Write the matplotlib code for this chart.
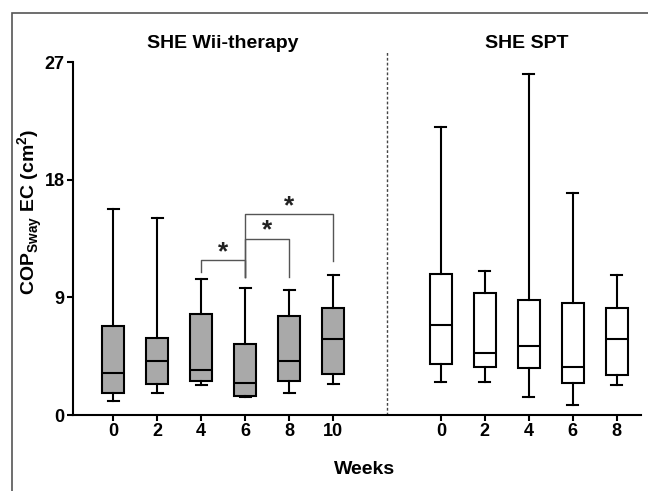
import numpy as np
import matplotlib
matplotlib.use('Agg')
import matplotlib.pyplot as plt
from matplotlib.patches import Rectangle

plt.rcParams['font.family'] = ['Liberation Sans', 'DejaVu Sans']
plt.rcParams['font.weight'] = 'bold'

# box statistics: whisker low, q1, median, q3, whisker high
wii_weeks = ['0', '2', '4', '6', '8', '10']
wii_low = [1.09, 1.67, 2.33, 1.39, 1.67, 2.36]
wii_q1 = [1.65, 2.38, 2.59, 1.47, 2.61, 3.12]
wii_med = [3.22, 4.16, 3.42, 2.41, 4.16, 5.78]
wii_q3 = [6.79, 5.91, 7.70, 5.45, 7.60, 8.19]
wii_high = [15.72, 15.03, 10.37, 9.71, 9.58, 10.70]

spt_weeks = ['0', '2', '4', '6', '8']
spt_low = [2.53, 2.51, 1.37, 0.79, 2.33]
spt_q1 = [3.93, 3.70, 3.57, 2.48, 3.07]
spt_med = [6.92, 4.77, 5.30, 3.67, 5.80]
spt_q3 = [10.77, 9.35, 8.80, 8.59, 8.16]
spt_high = [22.05, 11.03, 26.08, 16.96, 10.72]

# significance brackets (index pairs in the Wii group)
sig_pairs = [(2, 3), (3, 4), (3, 5)]
sig_top = [11.84, 13.48, 15.38]
sig_left_end = [10.95, 10.57, 10.57]
sig_right_end = [10.57, 10.57, 11.79]


def stats(low, q1, med, q3, high):
    return [dict(whislo=a, q1=b, med=c, q3=d, whishi=e, fliers=[])
            for a, b, c, d, e in zip(low, q1, med, q3, high)]


fig = plt.figure(figsize=(6.48, 4.91), dpi=100)
ax = fig.add_axes([73/648, 1-415/491, (641-73)/648, (415-62)/491])

wii_pos = np.arange(len(wii_weeks))
spt_pos = 7.45 + np.arange(len(spt_weeks))

lw = 1.5
common = dict(widths=0.5, showfliers=False, patch_artist=True,
              whiskerprops=dict(color='black', lw=lw),
              capprops=dict(color='black', lw=lw),
              medianprops=dict(color='black', lw=lw))
ax.bxp(stats(wii_low, wii_q1, wii_med, wii_q3, wii_high), positions=wii_pos,
       boxprops=dict(facecolor='#a9a9a9', edgecolor='black', lw=lw), **common)
ax.bxp(stats(spt_low, spt_q1, spt_med, spt_q3, spt_high), positions=spt_pos,
       boxprops=dict(facecolor='white', edgecolor='black', lw=lw), **common)

# significance brackets
for (i, j), top, le, re in zip(sig_pairs, sig_top, sig_left_end, sig_right_end):
    ax.plot([i, i, j, j], [le, top, top, re], color='#555555', lw=1.0)
    ax.text((i + j) / 2, top - 0.3, '*', ha='center', va='bottom',
            fontsize=19, color='#222222')

ax.set_xlim(-0.91, 12.0)
ax.set_ylim(0, 27)
ax.set_yticks([0, 9, 18, 27])
ax.set_xticks(np.concatenate([wii_pos, spt_pos]))
ax.set_xticklabels(wii_weeks + spt_weeks)
ax.tick_params(labelsize=13, width=1.5, length=4, pad=2)
for lab in ax.get_xticklabels() + ax.get_yticklabels():
    lab.set_fontweight('bold')

for s in ['top', 'right']:
    ax.spines[s].set_visible(False)
for s in ['left', 'bottom']:
    ax.spines[s].set_linewidth(1.5)

# group separator and titles
ax.plot([6.23, 6.23], [0, 27.8], color='#444444', lw=1, ls=(0, (2, 1.5)),
        clip_on=False)
ax.text(2.5, 28.4, 'SHE Wii-therapy', ha='center', va='center',
        fontsize=14, fontweight='bold', clip_on=False)
ax.text(9.4, 28.4, 'SHE SPT', ha='center', va='center',
        fontsize=14, fontweight='bold', clip_on=False)

fig.text(30/648, 1-212/491, r'COP$_{\mathregular{Sway}}$ EC (cm$^{\mathregular{2}}$)',
         rotation=90, ha='center', va='center', fontsize=14, fontweight='bold')
fig.text(365/648, 1-470/491, 'Weeks', ha='center', va='center',
         fontsize=14, fontweight='bold')

# outer frame
fig.patches.append(Rectangle((12/648, -0.1), 1.0, 0.1 + 1-13/491,
                             transform=fig.transFigure, fill=False,
                             edgecolor='#555555', lw=1.2))

fig.savefig('out.png', dpi=100)
